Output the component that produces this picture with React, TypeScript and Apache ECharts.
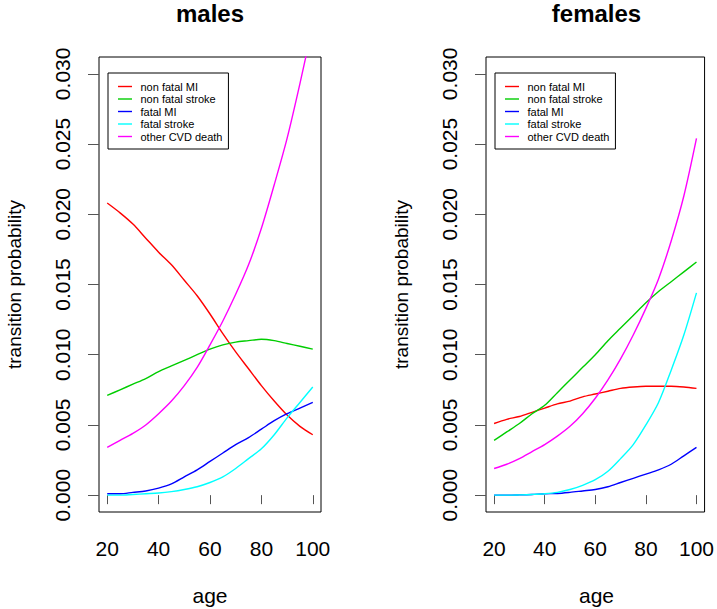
import React, { useEffect, useRef } from "react";
import * as echarts from "echarts";

const ages = [20, 25, 30, 35, 40, 45, 50, 55, 60, 65, 70, 75, 80, 85, 90, 95, 100];

const maleNonFatalMI = [0.0208, 0.0201, 0.0193, 0.0183, 0.0173, 0.0164, 0.0153, 0.0142, 0.0129, 0.0115, 0.0102, 0.0090, 0.0078, 0.0067, 0.0057, 0.0049, 0.0043];
const maleNonFatalStroke = [0.0071, 0.0075, 0.0079, 0.0083, 0.0088, 0.0092, 0.0096, 0.0100, 0.0104, 0.0107, 0.0109, 0.0110, 0.0111, 0.0110, 0.0108, 0.0106, 0.0104];
const maleFatalMI = [0.0001, 0.0001, 0.0002, 0.0003, 0.0005, 0.0008, 0.0013, 0.0018, 0.0024, 0.0030, 0.0036, 0.0041, 0.0047, 0.0053, 0.0058, 0.0062, 0.0066];
const maleFatalStroke = [0.0000, 0.0000, 0.00005, 0.0001, 0.00015, 0.00025, 0.0004, 0.0006, 0.0009, 0.0013, 0.0019, 0.0026, 0.0033, 0.0043, 0.0055, 0.0066, 0.0077];
const maleOtherCVD = [0.0034, 0.0039, 0.0044, 0.0050, 0.0058, 0.0067, 0.0078, 0.0091, 0.0107, 0.0124, 0.0143, 0.0164, 0.0190, 0.0221, 0.0254, 0.0293, 0.0335];

const femaleNonFatalMI = [0.0051, 0.0054, 0.0056, 0.0059, 0.0062, 0.0065, 0.0067, 0.0070, 0.0072, 0.0074, 0.0076, 0.0077, 0.00775, 0.00775, 0.00775, 0.0077, 0.0076];
const femaleNonFatalStroke = [0.0039, 0.0045, 0.0051, 0.0058, 0.0064, 0.0073, 0.0082, 0.0091, 0.0100, 0.0110, 0.0119, 0.0128, 0.0137, 0.0145, 0.0152, 0.0159, 0.0166];
const femaleFatalMI = [0.0000, 0.0000, 0.00002, 0.00005, 0.0001, 0.00012, 0.0002, 0.0003, 0.0004, 0.0006, 0.0009, 0.0012, 0.0015, 0.0018, 0.0022, 0.0028, 0.0034];
const femaleFatalStroke = [0.0000, 0.0000, 0.00002, 0.00005, 0.0001, 0.0002, 0.0004, 0.0007, 0.0011, 0.0017, 0.0026, 0.0036, 0.0050, 0.0066, 0.0089, 0.0114, 0.0144];
const femaleOtherCVD = [0.0019, 0.0022, 0.0026, 0.0031, 0.0036, 0.0042, 0.0049, 0.0058, 0.0069, 0.0082, 0.0097, 0.0114, 0.0133, 0.0154, 0.0181, 0.0213, 0.0254];

const seriesNames = ["non fatal MI", "non fatal stroke", "fatal MI", "fatal stroke", "other CVD death"];
const seriesColors = ["#FF0000", "#00CD00", "#0000FF", "#00FFFF", "#FF00FF"];
const panelTitles = ["males", "females"];
const xAxisTitle = "age";
const yAxisTitle = "transition probability";
const xTickValues = [20, 40, 60, 80, 100];
const yTickValues = [0, 0.005, 0.01, 0.015, 0.02, 0.025, 0.03];

const panels = [
  [maleNonFatalMI, maleNonFatalStroke, maleFatalMI, maleFatalStroke, maleOtherCVD],
  [femaleNonFatalMI, femaleNonFatalStroke, femaleFatalMI, femaleFatalStroke, femaleOtherCVD],
];

const FONT = "'Liberation Sans', Arial, Helvetica, sans-serif";

const gridBoxes = [
  { left: 99, top: 57, width: 222, height: 455 },
  { left: 486, top: 57, width: 221, height: 455 },
];

export default function App() {
  const ref = useRef<HTMLDivElement>(null);

  useEffect(() => {
    if (!ref.current) return;
    const chart = echarts.init(ref.current, null, { renderer: "svg" });

    const grids = gridBoxes.map((g) => ({
      ...g,
      show: true,
      borderColor: "#000",
      borderWidth: 1,
      backgroundColor: "transparent",
      containLabel: false,
    }));

    const xAxes = gridBoxes.map((_, i) => ({
      type: "value",
      gridIndex: i,
      min: 16.8,
      max: 103.2,
      axisLine: { show: false },
      splitLine: { show: false },
      axisTick: { show: true, length: 9, inside: false, customValues: xTickValues, lineStyle: { color: "#555", width: 1 } },
      axisLabel: {
        show: true,
        customValues: xTickValues,
        margin: 26,
        fontSize: 21,
        color: "#000",
        fontFamily: FONT,
        showMinLabel: true,
        showMaxLabel: true,
      },
    }));

    const yAxes = gridBoxes.map((_, i) => ({
      type: "value",
      gridIndex: i,
      min: -0.0012,
      max: 0.0312,
      axisLine: { show: false },
      splitLine: { show: false },
      axisTick: { show: true, length: 11, inside: false, customValues: yTickValues, lineStyle: { color: "#555", width: 1 } },
      axisLabel: {
        show: true,
        customValues: yTickValues,
        rotate: 90,
        margin: 26,
        fontSize: 21,
        color: "#000",
        fontFamily: FONT,
        formatter: (v: number) => v.toFixed(3),
      },
    }));

    const series: any[] = [];
    panels.forEach((panel, p) => {
      panel.forEach((vals, k) => {
        series.push({
          type: "line",
          name: seriesNames[k],
          xAxisIndex: p,
          yAxisIndex: p,
          data: ages.map((a, j) => [a, vals[j]]),
          symbol: "none",
          showSymbol: false,
          smooth: 0.3,
          clip: true,
          lineStyle: { color: seriesColors[k], width: 1.4 },
          itemStyle: { color: seriesColors[k] },
        });
      });
    });

    const legends = gridBoxes.map((g) => ({
      show: true,
      orient: "vertical",
      left: g.left + 9,
      top: 73,
      data: seriesNames,
      icon: "path://M0,0 L10,0 L10,1 L0,1 Z",
      itemWidth: 21,
      itemHeight: 1.4,
      itemGap: 1.5,
      itemTextGap: 10,
      padding: [8, 6, 7, 10],
      borderColor: "#000",
      borderWidth: 1,
      backgroundColor: "#fff",
      selectedMode: false,
      textStyle: { fontSize: 11, color: "#000", fontFamily: FONT, lineHeight: 10 },
    }));

    const graphics: any[] = [];
    gridBoxes.forEach((g, i) => {
      const cx = g.left + g.width / 2;
      graphics.push({
        type: "text",
        x: cx,
        y: 13,
        style: { text: panelTitles[i], fontSize: 24, fontWeight: "bold", fontFamily: FONT, fill: "#000", align: "center", verticalAlign: "middle" },
      });
      graphics.push({
        type: "text",
        x: cx,
        y: 595,
        style: { text: xAxisTitle, fontSize: 21, fontFamily: FONT, fill: "#000", align: "center", verticalAlign: "middle" },
      });
      graphics.push({
        type: "text",
        x: g.left - 85,
        y: g.top + g.height / 2,
        rotation: Math.PI / 2,
        style: { text: yAxisTitle, fontSize: 19, fontFamily: FONT, fill: "#000", align: "center", verticalAlign: "middle" },
      });
    });

    chart.setOption({
      animation: false,
      backgroundColor: "#fff",
      textStyle: { fontFamily: FONT },
      grid: grids,
      xAxis: xAxes,
      yAxis: yAxes,
      legend: legends,
      series,
      graphic: graphics,
    });

    return () => chart.dispose();
  }, []);

  return <div ref={ref} style={{ position: "fixed", left: 0, top: 0, width: 717, height: 609 }} />;
}
